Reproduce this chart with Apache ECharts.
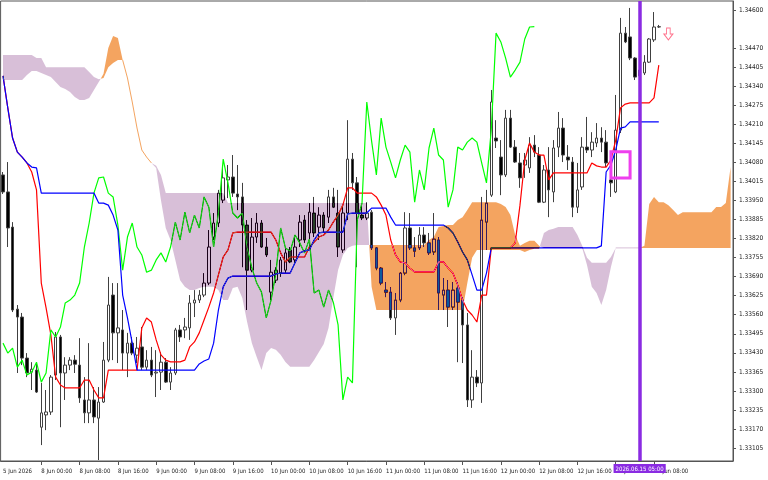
<!DOCTYPE html>
<html><head><meta charset="utf-8">
<script src="https://cdn.jsdelivr.net/npm/echarts@6/dist/echarts.min.js"></script>
<style>html,body{margin:0;padding:0;background:#fff}#c{width:768px;height:480px}</style>
</head><body><div id="c"></div>
<script>
const tickLabels = ['5 Jun 2026','8 Jun 00:00','8 Jun 08:00','8 Jun 16:00','9 Jun 00:00','9 Jun 08:00','9 Jun 16:00','10 Jun 00:00','10 Jun 08:00','10 Jun 16:00','11 Jun 00:00','11 Jun 08:00','11 Jun 16:00','12 Jun 00:00','12 Jun 08:00','12 Jun 16:00','15 Jun 00:00','15 Jun 08:00'];
const yTicks = [1.33105,1.33170,1.33235,1.33300,1.33365,1.33430,1.33495,1.33560,1.33625,1.33690,1.33755,1.33820,1.33885,1.33950,1.34015,1.34080,1.34145,1.34210,1.34275,1.34340,1.34405,1.34470,1.34600];
const sessions = [['2026.06.05',16,24],['2026.06.08',0,24],['2026.06.09',0,24],['2026.06.10',0,24],['2026.06.11',0,24],['2026.06.12',0,24],['2026.06.15',0,24],['2026.06.16',0,1]];

const opens = [
1.34037,1.33979,1.33859,1.33579,1.33552,1.33412,1.33364,1.33371,1.33176,1.33218,
1.33228,1.33354,1.33484,1.33361,1.33388,1.33405,1.33388,1.33269,1.33225,1.33269,
1.33207,1.33262,1.33405,1.33627,1.33498,1.33508,1.33429,1.33463,1.33422,1.33450,
1.33381,1.33405,1.33361,1.33364,1.33398,1.33330,1.33361,1.33508,1.33508,1.33515,
1.33600,1.33610,1.33627,1.33668,1.33825,1.33873,1.33951,1.34020,1.34030,1.33972,
1.33962,1.33866,1.33712,1.33825,1.33873,1.33791,1.33637,1.33678,1.33702,1.33712,
1.33781,1.33747,1.33815,1.33883,1.33839,1.33907,1.33859,1.33900,1.33893,1.33962,
1.33907,1.33781,1.33907,1.34091,1.34010,1.33900,1.33890,1.33910,1.33788,1.33719,
1.33644,1.33637,1.33549,1.33610,1.33702,1.33856,1.33788,1.33788,1.33832,1.33805,
1.33774,1.33815,1.33627,1.33644,1.33586,1.33651,1.33610,1.33525,1.33269,1.33347,
1.33327,1.33876,1.33968,1.34163,1.34098,1.34037,1.34231,1.34132,1.34078,1.34071,
1.34061,1.34139,1.34105,1.33944,1.34054,1.33979,1.34132,1.34197,1.34098,1.34081,
1.33927,1.33996,1.34132,1.34122,1.34146,1.34163,1.34149,1.34020,1.33979,1.34190,
1.34521,1.34508,1.34436,1.34375,1.34385,1.34422,1.34498,1.34542];
const closes = [
1.33979,1.33856,1.33576,1.33552,1.33412,1.33361,1.33374,1.33296,1.33225,1.33228,
1.33347,1.33484,1.33361,1.33388,1.33405,1.33391,1.33276,1.33225,1.33269,1.33211,
1.33262,1.33405,1.33593,1.33498,1.33515,1.33429,1.33463,1.33429,1.33446,1.33381,
1.33405,1.33354,1.33364,1.33398,1.33330,1.33361,1.33508,1.33484,1.33518,1.33600,
1.33610,1.33627,1.33668,1.33791,1.33873,1.33975,1.34027,1.34030,1.33975,1.33962,
1.33866,1.33712,1.33825,1.33873,1.33791,1.33764,1.33705,1.33712,1.33747,1.33771,
1.33740,1.33791,1.33876,1.33815,1.33910,1.33839,1.33900,1.33856,1.33962,1.33927,
1.33791,1.33907,1.34091,1.34010,1.33907,1.33890,1.33907,1.33788,1.33719,1.33668,
1.33637,1.33549,1.33610,1.33702,1.33856,1.33788,1.33777,1.33832,1.33805,1.33771,
1.33818,1.33634,1.33644,1.33586,1.33644,1.33603,1.33525,1.33269,1.33347,1.33327,
1.33883,1.33941,1.34286,1.34153,1.34037,1.34231,1.34132,1.34081,1.34027,1.34088,
1.34139,1.34115,1.33944,1.34054,1.33986,1.34129,1.34197,1.34105,1.34088,1.33927,
1.33986,1.34132,1.34122,1.34149,1.34163,1.34149,1.34078,1.34010,1.34190,1.34521,
1.34491,1.34436,1.34371,1.34395,1.34422,1.34501,1.34542,1.34543];
const highs = [
1.34047,1.34081,1.33876,1.33593,1.33566,1.33429,1.33398,1.33398,1.33327,1.33303,
1.33354,1.33501,1.33491,1.33415,1.33415,1.33422,1.33480,1.33347,1.33463,1.33313,
1.33313,1.33467,1.33689,1.33668,1.33668,1.33576,1.33498,1.33484,1.33484,1.33518,
1.33439,1.33450,1.33439,1.33432,1.33412,1.33381,1.33515,1.33525,1.33549,1.33627,
1.33644,1.33644,1.33702,1.33849,1.33907,1.33986,1.34071,1.34071,1.34105,1.34071,
1.34010,1.33883,1.33890,1.33907,1.33883,1.33822,1.33747,1.33722,1.33757,1.33791,
1.33791,1.33832,1.33900,1.33900,1.33941,1.33962,1.33927,1.33910,1.33986,1.33993,
1.33986,1.33927,1.34224,1.34112,1.34030,1.33934,1.33944,1.33917,1.33791,1.33722,
1.33671,1.33654,1.33634,1.33705,1.33910,1.33907,1.33825,1.33859,1.33859,1.33839,
1.33907,1.33825,1.33685,1.33678,1.33671,1.33671,1.33620,1.33566,1.33439,1.33371,
1.33962,1.33986,1.34327,1.34224,1.34156,1.34259,1.34259,1.34156,1.34112,1.34112,
1.34166,1.34173,1.34132,1.34071,1.34132,1.34156,1.34252,1.34231,1.34139,1.34098,
1.34078,1.34166,1.34235,1.34183,1.34214,1.34200,1.34190,1.34064,1.34310,1.34573,
1.34542,1.34607,1.34439,1.34422,1.34446,1.34504,1.34593,1.34549];
const lows = [
1.33972,1.33791,1.33569,1.33361,1.33388,1.33347,1.33303,1.33293,1.33115,1.33166,
1.33218,1.33337,1.33176,1.33269,1.33371,1.33361,1.33259,1.33190,1.33190,1.33190,
1.33064,1.33259,1.33398,1.33405,1.33395,1.33371,1.33347,1.33422,1.33395,1.33371,
1.33371,1.33347,1.33279,1.33303,1.33327,1.33303,1.33354,1.33467,1.33480,1.33474,
1.33552,1.33600,1.33620,1.33661,1.33815,1.33859,1.33941,1.33958,1.33962,1.33917,
1.33722,1.33576,1.33705,1.33805,1.33788,1.33757,1.33610,1.33668,1.33689,1.33702,
1.33736,1.33736,1.33791,1.33805,1.33791,1.33825,1.33815,1.33842,1.33873,1.33924,
1.33757,1.33771,1.33883,1.33986,1.33722,1.33883,1.33883,1.33781,1.33712,1.33661,
1.33620,1.33542,1.33491,1.33603,1.33695,1.33781,1.33757,1.33781,1.33791,1.33764,
1.33764,1.33576,1.33576,1.33518,1.33576,1.33398,1.33395,1.33245,1.33242,1.33313,
1.33259,1.33781,1.33962,1.34129,1.33968,1.34030,1.34129,1.34078,1.33993,1.34027,
1.34044,1.34098,1.33941,1.33941,1.33893,1.33944,1.34098,1.34081,1.34054,1.33893,
1.33907,1.33986,1.34112,1.34098,1.34132,1.34115,1.34064,1.33962,1.33975,1.34180,
1.34487,1.34429,1.34361,1.34361,1.34378,1.34419,1.34491,1.34539];
const tenkan = [
1.34375,1.34266,1.34163,1.34115,1.34098,1.34078,1.34047,1.33986,1.33668,1.33583,
1.33491,1.33347,1.33320,1.33310,1.33310,1.33310,1.33310,1.33337,1.33337,1.33303,
1.33276,1.33276,1.33371,1.33371,1.33371,1.33371,1.33371,1.33371,1.33371,1.33515,
1.33549,1.33535,1.33474,1.33423,1.33405,1.33399,1.33399,1.33399,1.33405,1.33450,
1.33467,1.33498,1.33542,1.33586,1.33634,1.33696,1.33757,1.33781,1.33839,1.33842,
1.33842,1.33842,1.33842,1.33842,1.33842,1.33842,1.33842,1.33815,1.33771,1.33740,
1.33757,1.33757,1.33757,1.33757,1.33791,1.33808,1.33825,1.33832,1.33849,1.33876,
1.33900,1.33934,1.33993,1.33993,1.33975,1.33975,1.33975,1.33975,1.33962,1.33934,
1.33900,1.33815,1.33764,1.33740,1.33737,1.33719,1.33706,1.33706,1.33706,1.33706,
1.33706,1.33740,1.33740,1.33719,1.33702,1.33661,1.33610,1.33576,1.33559,1.33535,
1.33627,1.33627,1.33788,1.33788,1.33788,1.33788,1.33788,1.33805,1.33934,1.34088,
1.34146,1.34115,1.34105,1.34105,1.34020,1.34044,1.34044,1.34044,1.34044,1.34044,
1.34044,1.34044,1.34044,1.34078,1.34068,1.34064,1.34064,1.34088,1.34156,1.34266,
1.34279,1.34283,1.34283,1.34283,1.34283,1.34283,1.34300,1.34412];
const kijun = [
1.34375,1.34266,1.34163,1.34115,1.34098,1.34078,1.34064,1.34061,1.33975,1.33975,
1.33975,1.33975,1.33975,1.33975,1.33975,1.33975,1.33975,1.33975,1.33975,1.33975,
1.33941,1.33941,1.33934,1.33900,1.33849,1.33627,1.33549,1.33463,1.33371,1.33371,
1.33371,1.33371,1.33371,1.33371,1.33371,1.33371,1.33371,1.33371,1.33371,1.33371,
1.33371,1.33392,1.33402,1.33409,1.33463,1.33576,1.33655,1.33685,1.33692,1.33692,
1.33692,1.33692,1.33692,1.33692,1.33692,1.33692,1.33692,1.33699,1.33702,1.33702,
1.33702,1.33737,1.33771,1.33778,1.33781,1.33815,1.33839,1.33842,1.33842,1.33842,
1.33842,1.33842,1.33904,1.33907,1.33907,1.33907,1.33907,1.33924,1.33924,1.33924,
1.33924,1.33893,1.33866,1.33866,1.33866,1.33866,1.33866,1.33866,1.33866,1.33866,
1.33866,1.33866,1.33866,1.33856,1.33839,1.33808,1.33774,1.33747,1.33696,1.33644,
1.33644,1.33702,1.33788,1.33788,1.33788,1.33788,1.33788,1.33788,1.33788,1.33788,
1.33788,1.33788,1.33788,1.33788,1.33788,1.33788,1.33788,1.33788,1.33788,1.33788,
1.33788,1.33788,1.33788,1.33788,1.33788,1.33795,1.34047,1.34071,1.34122,1.34197,
1.34201,1.34218,1.34218,1.34218,1.34218,1.34218,1.34218,1.34218];
const spanA = [
1.34361,1.34361,1.34361,1.34361,1.34361,1.34378,1.34392,1.34392,1.34385,1.34378,
1.34371,1.34354,1.34337,1.34330,1.34320,1.34303,1.34293,1.34293,1.34300,1.34327,
1.34354,1.34382,1.34470,1.34511,1.34504,1.34429,1.34368,1.34286,1.34197,1.34122,
1.34098,1.34078,1.34061,1.33951,1.33856,1.33815,1.33747,1.33678,1.33655,1.33644,
1.33644,1.33651,1.33655,1.33655,1.33655,1.33644,1.33610,1.33610,1.33651,1.33655,
1.33617,1.33535,1.33463,1.33416,1.33371,1.33429,1.33446,1.33440,1.33423,1.33399,
1.33382,1.33382,1.33382,1.33382,1.33382,1.33405,1.33433,1.33460,1.33515,1.33617,
1.33713,1.33764,1.33788,1.33795,1.33798,1.33798,1.33798,1.33798,1.33798,1.33798,
1.33798,1.33798,1.33798,1.33798,1.33798,1.33798,1.33798,1.33798,1.33798,1.33815,
1.33825,1.33859,1.33863,1.33866,1.33866,1.33883,1.33893,1.33917,1.33944,1.33944,
1.33944,1.33944,1.33944,1.33944,1.33938,1.33928,1.33900,1.33832,1.33795,1.33805,
1.33812,1.33812,1.33795,1.33788,1.33788,1.33788,1.33788,1.33788,1.33788,1.33788,
1.33788,1.33788,1.33730,1.33655,1.33634,1.33593,1.33644,1.33723,1.33788,1.33788,
1.33788,1.33788,1.33788,1.33788,1.33795,1.33938,1.33962,1.33944,1.33944,1.33934,
1.33917,1.33900,1.33910,1.33910,1.33910,1.33910,1.33910,1.33910,1.33910,1.33928,
1.33928,1.33941,1.34064];
const spanB = [
1.34446,1.34446,1.34446,1.34446,1.34446,1.34446,1.34446,1.34436,1.34436,1.34405,
1.34405,1.34405,1.34405,1.34405,1.34405,1.34405,1.34405,1.34405,1.34388,1.34371,
1.34364,1.34368,1.34405,1.34419,1.34429,1.34429,1.34368,1.34286,1.34197,1.34122,
1.34098,1.34078,1.34068,1.34037,1.33975,1.33975,1.33975,1.33975,1.33975,1.33975,
1.33975,1.33975,1.33975,1.33975,1.33975,1.33975,1.33975,1.33941,1.33941,1.33941,
1.33941,1.33941,1.33941,1.33941,1.33941,1.33941,1.33941,1.33941,1.33941,1.33941,
1.33941,1.33941,1.33941,1.33941,1.33941,1.33941,1.33941,1.33941,1.33941,1.33941,
1.33941,1.33941,1.33941,1.33941,1.33941,1.33941,1.33941,1.33655,1.33576,1.33576,
1.33576,1.33576,1.33576,1.33576,1.33576,1.33576,1.33576,1.33576,1.33576,1.33576,
1.33576,1.33576,1.33576,1.33576,1.33576,1.33576,1.33576,1.33668,1.33754,1.33781,
1.33781,1.33781,1.33781,1.33781,1.33781,1.33781,1.33781,1.33781,1.33781,1.33774,
1.33781,1.33785,1.33785,1.33839,1.33849,1.33853,1.33859,1.33859,1.33859,1.33859,
1.33832,1.33795,1.33754,1.33737,1.33737,1.33737,1.33737,1.33757,1.33788,1.33788,
1.33788,1.33788,1.33788,1.33788,1.33788,1.33788,1.33788,1.33788,1.33788,1.33788,
1.33788,1.33788,1.33788,1.33788,1.33788,1.33788,1.33788,1.33788,1.33788,1.33788,
1.33788,1.33788,1.33788];
const lastPrice = 1.34543;
const markerBar = 133;
const markerLabel = '2026.06.15 05:00';
const boxMark = [[127, 1.34116], [131, 1.34027]];
const sellArrow = [139, 1.34518];

const categories = [];
sessions.forEach(s => { for (let h = s[1]; h < s[2]; h++) categories.push(s[0] + ' ' + (h < 10 ? '0' : '') + h + ':00'); });

const F = "'DejaVu Sans Condensed','DejaVu Sans','Liberation Sans',sans-serif";
const candleData = opens.map((o, i) => [o, closes[i], lows[i], highs[i]]);
const chikou = closes.slice(26);

const ORANGE_INV = '#0b5b9f';  // inverse of sandybrown, drawn with difference blend
const THISTLE_INV = '#274027'; // inverse of thistle
function renderCloud(params, api) {
  const n = spanA.length, children = [];
  const col = s => s > 0 ? ORANGE_INV : THISTLE_INV;
  const sg = i => { const d = spanA[i] - spanB[i]; return Math.abs(d) < 1e-9 ? 0 : (d > 0 ? 1 : -1); };
  let top = null, bot = null, curS = 0, lastS = 1, zl = null, zlS = 1;
  const flush = () => {
    if (top && top.length > 1) children.push({type: 'polygon', name: 'cloudPart', silent: true, shape: {points: top.concat(bot.slice().reverse())}, style: {fill: col(curS), blend: 'difference'}});
    top = null; bot = null;
  };
  const flushZ = () => {
    if (zl && zl.length > 1) children.push({type: 'polyline', name: 'cloudPart', silent: true, shape: {points: zl}, style: {stroke: col(zlS), lineWidth: 1, fill: null, blend: 'difference'}});
    zl = null;
  };
  for (let i = 0; i < n - 1; i++) {
    const s0 = sg(i), s1 = sg(i + 1);
    const a0 = api.coord([i, spanA[i]]), b0 = api.coord([i, spanB[i]]);
    const a1 = api.coord([i + 1, spanA[i + 1]]), b1 = api.coord([i + 1, spanB[i + 1]]);
    if (s0 === 0 && s1 === 0) {
      flush();
      if (!zl) { zl = [a0]; zlS = lastS; }
      zl.push(a1);
      continue;
    }
    flushZ();
    if (s0 !== 0 && s1 !== 0 && s0 !== s1) {
      const d0 = spanA[i] - spanB[i], d1 = spanA[i + 1] - spanB[i + 1];
      const t = d0 / (d0 - d1);
      const X = [a0[0] + (a1[0] - a0[0]) * t, a0[1] + (a1[1] - a0[1]) * t];
      if (!top || curS !== s0) { flush(); top = [a0]; bot = [b0]; curS = s0; }
      top.push(X); bot.push(X); flush();
      top = [X, a1]; bot = [X, b1]; curS = s1; lastS = s1;
      continue;
    }
    const s = s0 !== 0 ? s0 : s1;
    if (!top || curS !== s) { flush(); top = [a0]; bot = [b0]; curS = s; }
    top.push(a1); bot.push(b1); lastS = s;
  }
  flush(); flushZ();
  return {type: 'group', children};
}

const chart = echarts.init(document.getElementById('c'), null, {renderer: 'canvas'});
chart.setOption({
  animation: false,
  backgroundColor: '#ffffff',
  grid: {left: 0, right: 35, top: 1, bottom: 19, show: true, borderColor: '#555', borderWidth: 1, backgroundColor: 'transparent'},
  xAxis: {
    type: 'category', data: categories, boundaryGap: true,
    axisLine: {show: true, lineStyle: {color: '#555'}},
    axisTick: {show: true, alignWithLabel: true, interval: (i) => i > 0 && i % 8 === 0 && i <= 136, length: 4, lineStyle: {color: '#555'}},
    axisLabel: {interval: (i) => i % 8 === 0 && i <= 136, formatter: (v, i) => tickLabels[i / 8] || '', align: 'left', fontSize: 6, color: '#222', margin: 7, fontFamily: F},
    splitLine: {show: false}
  },
  yAxis: {
    type: 'value', position: 'right', min: 1.330607, max: 1.346307,
    axisLine: {show: true, lineStyle: {color: '#555'}},
    axisTick: {show: true, customValues: yTicks, length: 3, lineStyle: {color: '#555'}},
    axisLabel: {customValues: yTicks, formatter: v => v.toFixed(5), fontSize: 6.5, color: '#222', margin: 6, fontFamily: F},
    splitLine: {show: false}
  },
  series: [
    {type: 'candlestick', data: candleData, barWidth: 3, z: 2, silent: true,
     itemStyle: {color: '#ffffff', color0: '#000000', borderColor: '#404040', borderColor0: '#404040', borderWidth: 1}},
    {type: 'line', data: tenkan, symbol: 'none', z: 3, silent: true, lineStyle: {color: '#ff0000', width: 1.2}},
    {type: 'line', data: chikou, symbol: 'none', z: 3, silent: true, lineStyle: {color: '#00ff00', width: 1.2}},
    {type: 'line', data: kijun, symbol: 'none', z: 4, silent: true, lineStyle: {color: '#0000ff', width: 1.2}},
    {type: 'custom', data: [[0, spanA[0]]], renderItem: renderCloud, z: 5, silent: true},
    {type: 'scatter', data: [sellArrow], z: 10, silent: true,
     symbol: 'path://M3,0L7,0L7,6L10,6L5,12L0,6L3,6Z', symbolSize: [9, 12],
     itemStyle: {color: '#ffffff', borderColor: '#ff4f6f', borderWidth: 1},
     markLine: {silent: true, z: 10, symbol: ['none', 'none'], animation: false, data: [
       {yAxis: lastPrice, lineStyle: {color: '#cc5a5a', width: 1, type: 'solid'},
        label: {show: true, position: 'end', formatter: lastPrice.toFixed(5), backgroundColor: '#e00000', color: '#ffffff', fontSize: 6.5, fontFamily: F, padding: [2, 2, 1, 2], distance: 3}},
       {xAxis: markerBar, lineStyle: {color: '#8a2be2', width: 3.5, type: 'solid'},
        label: {show: true, position: 'start', formatter: markerLabel, backgroundColor: '#8a2be2', color: '#ffffff', fontSize: 6, fontFamily: F, padding: [2, 2, 1, 2], distance: 3}}
     ]},
     markArea: {silent: true, z: 10, itemStyle: {color: 'rgba(0,0,0,0)', borderColor: '#ee3fee', borderWidth: 3},
       data: [[{xAxis: boxMark[0][0], yAxis: boxMark[0][1]}, {xAxis: boxMark[1][0], yAxis: boxMark[1][1]}]]}
    }
  ]
});

// MT5 paints the cloud with an inverting (XOR-like) fill: emulate it with a 'difference' blend.
function applyBlend() {
  const zr = chart.getZr();
  const list = zr.storage.getDisplayList(true);
  const inv = [ORANGE_INV, THISTLE_INV];
  list.forEach(el => {
    const st = el.style || {};
    const c = (st.fill && st.fill !== 'none') ? st.fill : st.stroke;
    if (el.name === 'cloudPart' || (typeof c === 'string' && inv.indexOf(c.toLowerCase()) >= 0 && el.type !== 'text')) {
      el.style.blend = 'difference';
      el.markRedraw();
    }
  });
  zr.refreshImmediately();
}
applyBlend();
</script>
</body></html>
